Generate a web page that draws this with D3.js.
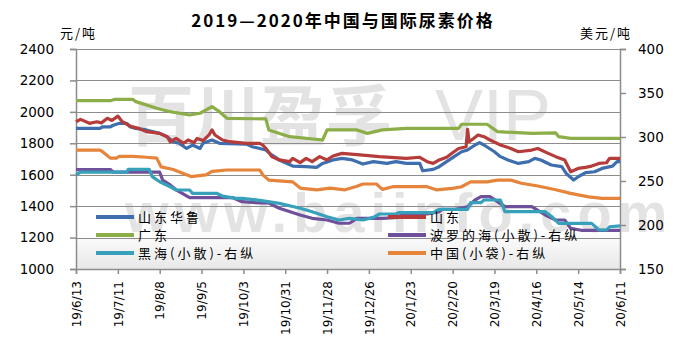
<!DOCTYPE html>
<html><head><meta charset="utf-8">
<script src="https://cdn.jsdelivr.net/npm/d3@7/dist/d3.min.js"></script>
<style>body{margin:0;background:#fff}</style>
</head><body><svg id="c" width="685" height="360"></svg>
<script>
const titleText = "2019—2020年中国与国际尿素价格";
const leftUnit = "元/吨";
const rightUnit = "美元/吨";
const leftTicks = [1000,1200,1400,1600,1800,2000,2200,2400];
const rightTicks = [150,200,250,300,350,400];
const xTickDates = ["2019-06-13","2019-07-11","2019-08-08","2019-09-05","2019-10-03","2019-10-31","2019-11-28","2019-12-26","2020-01-23","2020-02-20","2020-03-19","2020-04-16","2020-05-14","2020-06-11"];
const xTickLabels = ["19/6/13","19/7/11","19/8/8","19/9/5","19/10/3","19/10/31","19/11/28","19/12/26","20/1/23","20/2/20","20/3/19","20/4/16","20/5/14","20/6/11"];

// 山东华鲁 (left axis, 元/吨)
const shandongHualu = [["2019-06-13",1895],["2019-06-29",1895],["2019-07-01",1905],["2019-07-06",1905],["2019-07-08",1915],["2019-07-12",1927],["2019-07-17",1927],["2019-07-19",1906],["2019-07-23",1895],["2019-07-30",1885],["2019-08-08",1863],["2019-08-13",1842],["2019-08-17",1810],["2019-08-21",1800],["2019-08-26",1767],["2019-08-30",1789],["2019-09-04",1767],["2019-09-06",1800],["2019-09-12",1821],["2019-09-17",1800],["2019-10-05",1795],["2019-10-09",1778],["2019-10-14",1767],["2019-10-18",1757],["2019-10-22",1726],["2019-10-27",1694],["2019-11-05",1655],["2019-11-14",1651],["2019-11-21",1647],["2019-11-25",1672],["2019-12-02",1694],["2019-12-08",1704],["2019-12-15",1694],["2019-12-22",1668],["2019-12-29",1683],["2020-01-07",1672],["2020-01-13",1683],["2020-01-20",1672],["2020-01-29",1672],["2020-01-31",1625],["2020-02-07",1634],["2020-02-11",1651],["2020-02-16",1683],["2020-02-21",1715],["2020-02-26",1746],["2020-03-01",1757],["2020-03-06",1789],["2020-03-09",1804],["2020-03-12",1789],["2020-03-19",1746],["2020-03-23",1715],["2020-03-28",1694],["2020-04-04",1672],["2020-04-11",1683],["2020-04-15",1704],["2020-04-19",1694],["2020-04-26",1662],["2020-05-03",1651],["2020-05-06",1608],["2020-05-11",1566],["2020-05-14",1587],["2020-05-19",1613],["2020-05-25",1619],["2020-05-30",1640],["2020-06-06",1655],["2020-06-09",1683],["2020-06-11",1683]];
// 山东 (left axis)
const shandong = [["2019-06-13",1937],["2019-06-16",1952],["2019-06-22",1927],["2019-06-27",1937],["2019-06-30",1930],["2019-07-04",1959],["2019-07-07",1945],["2019-07-11",1973],["2019-07-14",1937],["2019-07-20",1906],["2019-07-25",1895],["2019-07-30",1874],["2019-08-08",1863],["2019-08-13",1842],["2019-08-15",1810],["2019-08-19",1831],["2019-08-24",1800],["2019-08-27",1821],["2019-08-31",1804],["2019-09-02",1831],["2019-09-06",1817],["2019-09-10",1853],["2019-09-12",1885],["2019-09-14",1853],["2019-09-19",1821],["2019-09-24",1810],["2019-10-05",1800],["2019-10-14",1800],["2019-10-16",1789],["2019-10-19",1757],["2019-10-22",1715],["2019-10-27",1694],["2019-11-03",1683],["2019-11-05",1704],["2019-11-10",1677],["2019-11-14",1704],["2019-11-18",1683],["2019-11-23",1715],["2019-11-28",1694],["2019-12-02",1719],["2019-12-08",1736],["2019-12-20",1726],["2020-01-02",1715],["2020-01-20",1704],["2020-01-29",1711],["2020-02-03",1683],["2020-02-07",1672],["2020-02-11",1694],["2020-02-16",1711],["2020-02-20",1740],["2020-02-24",1767],["2020-02-29",1778],["2020-03-01",1889],["2020-03-02",1810],["2020-03-05",1831],["2020-03-08",1853],["2020-03-12",1842],["2020-03-16",1821],["2020-03-23",1789],["2020-03-30",1767],["2020-04-04",1746],["2020-04-13",1757],["2020-04-17",1767],["2020-04-24",1736],["2020-04-29",1715],["2020-05-05",1694],["2020-05-09",1619],["2020-05-14",1640],["2020-05-19",1647],["2020-05-23",1655],["2020-05-28",1672],["2020-06-02",1676],["2020-06-04",1704],["2020-06-11",1704]];
// 广东 (left axis)
const guangdong = [["2019-06-13",2071],["2019-07-06",2071],["2019-07-09",2080],["2019-07-21",2080],["2019-07-23",2065],["2019-08-06",2023],["2019-08-15",2001],["2019-08-28",1980],["2019-09-04",1991],["2019-09-12",2033],["2019-09-17",2001],["2019-09-22",1959],["2019-10-18",1955],["2019-10-20",1885],["2019-11-03",1842],["2019-11-25",1821],["2019-11-28",1885],["2019-12-18",1885],["2019-12-25",1863],["2020-01-04",1885],["2020-01-20",1895],["2020-02-24",1895],["2020-02-26",1921],["2020-03-14",1921],["2020-03-21",1874],["2020-04-13",1863],["2020-04-29",1866],["2020-05-01",1842],["2020-05-09",1831],["2020-06-11",1831]];
// 波罗的海(小散) (right axis, 美元/吨)
const baltic = [["2019-06-13",263],["2019-07-06",263],["2019-07-08",260],["2019-08-08",260],["2019-08-10",251],["2019-08-15",245.5],["2019-08-19",240],["2019-08-28",231],["2019-09-26",231],["2019-10-02",226.5],["2019-10-14",225],["2019-10-20",225],["2019-10-27",219],["2019-11-10",211.4],["2019-11-18",207.6],["2019-11-28",205.7],["2019-12-06",202],["2019-12-13",202],["2019-12-18",207.6],["2020-01-04",207.6],["2020-01-15",208.7],["2020-01-17",212.5],["2020-02-03",212.5],["2020-02-11",215],["2020-02-13",217.8],["2020-02-22",217.8],["2020-03-01",220.8],["2020-03-06",228.4],["2020-03-10",232.2],["2020-03-16",232.2],["2020-03-26",220.8],["2020-04-13",220.8],["2020-04-22",211.4],["2020-04-29",205.7],["2020-05-05",205.7],["2020-05-09",196.2],["2020-05-16",194],["2020-06-11",194]];
// 黑海(小散) (right axis)
const blackSea = [["2019-06-13",257],["2019-06-16",260],["2019-07-17",260],["2019-07-18",263.3],["2019-08-01",263.3],["2019-08-03",255],["2019-08-08",249.2],["2019-08-15",243.5],["2019-08-19",239.8],["2019-08-28",239.8],["2019-08-30",236],["2019-09-15",236],["2019-09-19",232.9],["2019-09-28",230.3],["2019-10-02",230.3],["2019-10-14",228],["2019-10-27",224.6],["2019-11-10",219],["2019-11-18",215],["2019-11-28",209.4],["2019-12-06",205.7],["2019-12-13",207.6],["2019-12-22",205.7],["2019-12-29",208.7],["2020-01-02",212.5],["2020-01-13",212.5],["2020-01-15",214],["2020-02-07",214],["2020-02-09",216],["2020-02-11",217.8],["2020-03-01",217.8],["2020-03-03",225.4],["2020-03-10",225.4],["2020-03-12",228.4],["2020-03-23",228.4],["2020-03-26",215.1],["2020-04-22",215.1],["2020-04-26",210],["2020-05-01",201.9],["2020-05-23",201.9],["2020-05-28",194.3],["2020-06-02",194.3],["2020-06-04",198],["2020-06-11",199]];
// 中国(小袋) (right axis)
const china = [["2019-06-13",285],["2019-06-29",285],["2019-07-01",283],["2019-07-06",276],["2019-07-10",276],["2019-07-12",278],["2019-07-21",278],["2019-07-30",277],["2019-08-06",276],["2019-08-09",266],["2019-08-17",263],["2019-08-23",259],["2019-08-29",255],["2019-09-08",257],["2019-09-12",261],["2019-09-22",262.5],["2019-10-14",262.5],["2019-10-16",257],["2019-10-20",251],["2019-11-05",249],["2019-11-10",242],["2019-11-21",240],["2019-11-30",242],["2019-12-10",240],["2019-12-18",244],["2019-12-22",246.6],["2019-12-31",246.6],["2020-01-04",240.5],["2020-01-11",243.5],["2020-02-03",243.5],["2020-02-09",240],["2020-02-20",241.7],["2020-02-26",243.5],["2020-03-03",249],["2020-03-14",249],["2020-03-21",251],["2020-03-30",251],["2020-04-06",247.4],["2020-04-17",244.3],["2020-04-29",240],["2020-05-09",236],["2020-05-21",232],["2020-05-30",230.3],["2020-06-11",230.3]];

const seriesNames = ["山东华鲁","山东","广东","波罗的海(小散)-右纵","黑海(小散)-右纵","中国(小袋)-右纵"];
const seriesData = [shandongHualu, shandong, guangdong, baltic, blackSea, china];
const seriesAxis = ["L","L","L","R","R","R"];
const seriesColors = ["#3f6eae","#b53c3a","#8cae48","#6e519a","#37a0ba","#e5843a"];

const parse = d3.timeParse("%Y-%m-%d");
const svg = d3.select("#c");
const X0 = 76, X1 = 620, Y0 = 49, Y1 = 269;
const x = d3.scaleTime().domain([parse(xTickDates[0]), parse(xTickDates[xTickDates.length-1])]).range([X0, X1]);
const yL = d3.scaleLinear().domain([1000,2400]).range([Y1, Y0]);
const yR = d3.scaleLinear().domain([150,400]).range([Y1, Y0]);

// background gradient at bottom of plot
const defs = svg.append("defs");
const g1 = defs.append("linearGradient").attr("id","bg").attr("x1",0).attr("y1",0).attr("x2",0).attr("y2",1);
g1.append("stop").attr("offset","0").attr("stop-color","#fff");
g1.append("stop").attr("offset","1").attr("stop-color","#e8e8e8");
svg.append("rect").attr("x",X0).attr("y",230).attr("width",X1-X0).attr("height",Y1-230).attr("fill","url(#bg)");

// watermark
const wm = svg.append("g").attr("fill","#e3e3e3").attr("font-family","Noto Sans CJK SC, sans-serif");
wm.append("text").attr("x",128).attr("y",140).attr("font-size",66).attr("font-weight","bold").text("百川盈孚");
wm.append("text").attr("x",435).attr("y",140).attr("font-size",72).attr("font-family","Liberation Sans, sans-serif").text("VIP");
wm.append("text").attr("x",125).attr("y",232).attr("font-size",56).attr("font-weight","bold").attr("font-family","Liberation Sans, sans-serif").attr("letter-spacing",6).text("www.baiinfo.com");

// gridlines
svg.append("g").selectAll("line").data(leftTicks.slice(1)).join("line")
  .attr("x1",X0).attr("x2",X1).attr("y1",d=>Math.round(yL(d))+0.5).attr("y2",d=>Math.round(yL(d))+0.5)
  .attr("stroke","#8c8c8c").attr("stroke-width",1);

// axes
const axL = svg.append("g").attr("transform",`translate(${X0},0)`).call(d3.axisLeft(yL).tickValues(leftTicks).tickFormat(d3.format("d")).tickSize(6).tickPadding(16));
const axR = svg.append("g").attr("transform",`translate(${X1},0)`).call(d3.axisRight(yR).tickValues(rightTicks).tickFormat(d3.format("d")).tickSize(6).tickPadding(12));
const axB = svg.append("g").attr("transform",`translate(0,${Y1})`).call(d3.axisBottom(x).tickValues(xTickDates.map(parse)).tickFormat((d,i)=>xTickLabels[i]).tickSize(5));
[axL,axR,axB].forEach(a=>{
  a.selectAll("path,line").attr("stroke","#8c8c8c").attr("stroke-width",1.5);
  a.selectAll("text").attr("fill","#000").attr("font-family","DejaVu Sans, sans-serif");
});
axL.selectAll("text").attr("font-size",13.5);
axR.selectAll("text").attr("font-size",13.5);
axB.selectAll("text").attr("font-size",12).attr("transform","rotate(-90)").attr("text-anchor","end")
  .attr("x",-12).attr("y",0).attr("dy","0.35em");

// lines
seriesData.forEach((s,i)=>{
  const yy = seriesAxis[i]==="L" ? yL : yR;
  const line = d3.line().x(d=>x(parse(d[0]))).y(d=>yy(d[1]));
  svg.append("path").datum(s).attr("d",line).attr("fill","none")
    .attr("stroke",seriesColors[i]).attr("stroke-width",3.2).attr("stroke-linejoin","round");
});

// legend
const legPos = [[96,217],[388,217],[96,235],[388,235],[96,253],[388,253]];
const leg = svg.append("g");
seriesNames.forEach((n,i)=>{
  const [lx,ly] = legPos[i];
  leg.append("line").attr("x1",lx).attr("x2",lx+38).attr("y1",ly).attr("y2",ly)
    .attr("stroke",seriesColors[i]).attr("stroke-width",4);
  leg.append("text").attr("x",lx+42).attr("y",ly).attr("dy","0.38em")
    .attr("font-family","Noto Sans CJK SC, sans-serif").attr("font-size",13).attr("letter-spacing",3)
    .attr("fill","#000").text(n);
});

// title and units
svg.append("text").attr("x",343).attr("y",27).attr("text-anchor","middle")
  .attr("font-family","Noto Sans CJK SC, sans-serif").attr("font-size",17).attr("font-weight","bold")
  .attr("letter-spacing",2).text(titleText);
svg.append("text").attr("x",60).attr("y",38).attr("font-family","Noto Sans CJK SC, sans-serif").attr("font-size",13).attr("letter-spacing",2).text(leftUnit);
svg.append("text").attr("x",580).attr("y",38).attr("font-family","Noto Sans CJK SC, sans-serif").attr("font-size",13).attr("letter-spacing",2).text(rightUnit);
</script></body></html>
